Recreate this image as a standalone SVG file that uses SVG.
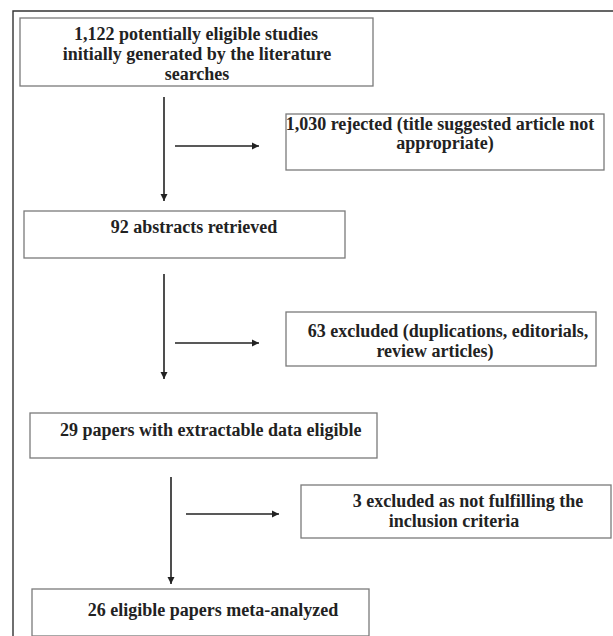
<svg xmlns="http://www.w3.org/2000/svg" width="613" height="636" viewBox="0 0 613 636">
<defs>
<style>
.box{fill:#fff;stroke:#7a7a7a;stroke-width:1.3}
.c{stroke:#222;stroke-width:1.6;fill:none;marker-end:url(#ah)}
.frame{stroke:#333;stroke-width:1.4;fill:none}
</style>
<marker id="ah" viewBox="0 0 10 10" refX="10" refY="5" markerWidth="4.5" markerHeight="4.5" markerUnits="strokeWidth" orient="auto">
<path d="M0,0 L10,5 L0,10 z" fill="#222"/>
</marker>
</defs>
<rect width="613" height="636" fill="#fff"/>
<path class="frame" d="M13,636 V11 H613"/>
<g font-family="Liberation Serif, Times New Roman, serif" font-weight="bold" font-size="18" fill="#222">
<g id="n1">
<rect class="box" x="20" y="18" width="353" height="68"/>
<text text-anchor="middle" x="196" y="40">1,122 potentially eligible studies</text>
<text text-anchor="middle" x="197" y="60">initially generated by the literature</text>
<text text-anchor="middle" x="197" y="80">searches</text>
</g>
<g id="n2">
<rect class="box" x="286" y="114" width="318" height="56"/>
<text text-anchor="middle" x="440" y="130">1,030 rejected (title suggested article not</text>
<text text-anchor="middle" x="445" y="149">appropriate)</text>
</g>
<g id="n3">
<rect class="box" x="24" y="211" width="321" height="47"/>
<text text-anchor="middle" x="194" y="233">92 abstracts retrieved</text>
</g>
<g id="n4">
<rect class="box" x="286" y="312" width="310" height="54"/>
<text text-anchor="middle" x="448" y="337">63 excluded (duplications, editorials,</text>
<text text-anchor="middle" x="435" y="357">review articles)</text>
</g>
<g id="n5">
<rect class="box" x="30" y="413" width="347" height="45"/>
<text x="60" y="436">29 papers with extractable data eligible</text>
</g>
<g id="n6">
<rect class="box" x="301" y="485" width="310" height="53"/>
<text text-anchor="middle" x="468" y="507">3 excluded as not fulfilling the</text>
<text text-anchor="middle" x="454" y="527">inclusion criteria</text>
</g>
<g id="n7">
<rect class="box" x="32" y="589" width="337" height="47"/>
<text text-anchor="middle" x="213" y="616">26 eligible papers meta-analyzed</text>
</g>
</g>
<g id="connectors">
<line class="c" x1="164" y1="97" x2="164" y2="201"/>
<line class="c" x1="175" y1="146" x2="259" y2="146"/>
<line class="c" x1="164" y1="274" x2="164" y2="379"/>
<line class="c" x1="175" y1="343" x2="259" y2="343"/>
<line class="c" x1="171" y1="477" x2="171" y2="584"/>
<line class="c" x1="186" y1="514" x2="279" y2="514"/>
</g>
</svg>
